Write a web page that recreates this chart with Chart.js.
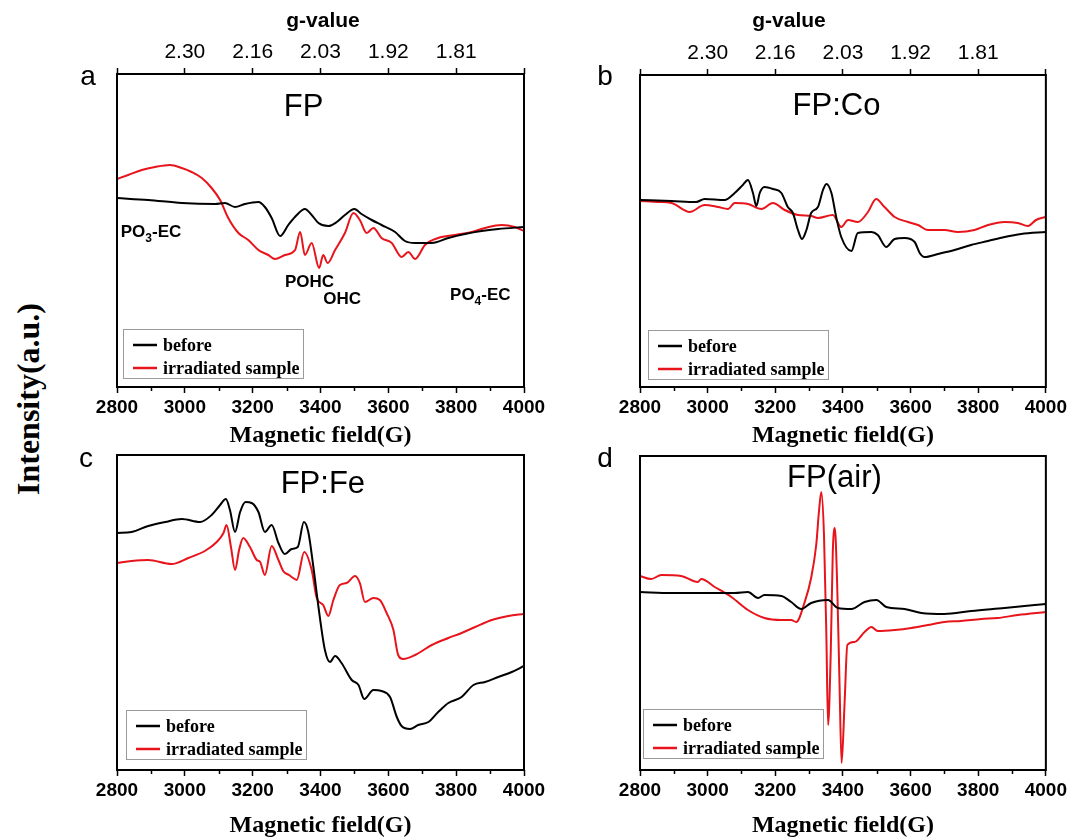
<!DOCTYPE html>
<html>
<head>
<meta charset="utf-8">
<script src="https://cdn.jsdelivr.net/npm/chart.js@4.4.0/dist/chart.umd.min.js"></script>
<style>
html,body{margin:0;padding:0;background:#fff;}
#wrap{position:relative;width:1071px;height:838px;overflow:hidden;background:#fff;}
canvas{position:absolute;}
#ylab{position:absolute;left:28px;top:399px;transform:translate(-50%,-50%) rotate(-90deg);font:bold 32px "Liberation Serif","Times New Roman",serif;white-space:nowrap;color:#000;}
</style>
</head>
<body>
<div id="wrap">
<canvas id="cA" style="left:60px;top:0px" width="490" height="448"></canvas>
<canvas id="cB" style="left:580px;top:0px" width="490" height="448"></canvas>
<canvas id="cC" style="left:60px;top:440px" width="490" height="398"></canvas>
<canvas id="cD" style="left:580px;top:440px" width="490" height="398"></canvas>
<div id="ylab">Intensity(a.u.)</div>
</div>
<script>
// ---------------- DATA ----------------
const seriesNames = ['before', 'irradiated sample'];
const xTitle = 'Magnetic field(G)';
const gTitle = 'g-value';
const gTickFields = [3000, 3200, 3400, 3600, 3800];
const gTickLabels = ['2.30', '2.16', '2.03', '1.92', '1.81'];

// Panel a: FP
const aBeforeX = [2800,2892,2991,3089,3118,3148,3177,3217,3236,3256,3281,3305,3330,3354,3374,3394,3423,3448,3472,3500,3521,3551,3580,3620,3649,3679,3728,3777,3826,3875,3924,4000];
const aBeforeY = [189,187,184,183,184,180,183,185,180,169,151,162,172,178,172,164,161,165,172,178,173,167,162,155,146,144,144,149,153,156,158,160];
const aIrrX = [2800,2833,2873,2912,2956,2991,3020,3050,3079,3104,3128,3158,3187,3217,3246,3266,3295,3325,3340,3354,3374,3396,3408,3421,3443,3472,3497,3516,3536,3556,3580,3610,3639,3659,3679,3708,3747,3797,3846,3885,3934,3973,4000];
const aIrrY = [208,212,217,220,222,219,215,209,199,187,169,154,147,137,132,128,132,137,155,132,144,119,132,124,137,154,174,167,154,159,149,144,130,135,128,142,149,152,155,159,162,160,156];

// Panel b: FP:Co
const bBeforeX = [2800,2893,2966,2991,3050,3080,3104,3119,3134,3144,3154,3168,3193,3218,3237,3252,3267,3279,3292,3306,3326,3341,3351,3366,3380,3395,3425,3444,3484,3503,3528,3553,3582,3612,3627,3641,3681,3730,3779,3829,3878,3927,4000];
const bBeforeY = [187,186,185,188,187,194,202,207,194,181,194,200,198,194,180,174,157,148,157,174,180,197,203,194,170,150,136,154,155,152,140,148,149,145,134,130,133,137,142,146,150,153,155];
const bIrrX = [2800,2853,2893,2947,2991,3031,3060,3080,3119,3159,3193,3228,3267,3306,3326,3370,3395,3415,3444,3474,3498,3523,3553,3592,3622,3651,3700,3740,3789,3829,3878,3917,3947,3971,4000];
const bIrrY = [186,185,184,175,182,180,178,184,183,178,184,177,172,171,169,172,160,167,165,175,188,180,170,165,162,157,157,155,157,162,165,164,161,167,170];

// Panel c: FP:Fe
const cBeforeX = [2800,2843,2892,2942,2991,3045,3079,3104,3121,3133,3148,3163,3179,3197,3217,3236,3256,3276,3295,3315,3333,3351,3364,3379,3394,3413,3428,3443,3462,3492,3512,3529,3556,3580,3605,3625,3639,3664,3688,3718,3747,3777,3816,3851,3885,3924,3964,4000];
const cBeforeY = [237,238,244,248,251,248,255,265,271,260,238,258,268,267,258,238,245,227,216,221,223,248,238,203,163,120,108,114,107,90,85,71,80,79,73,53,44,41,45,48,58,67,73,85,88,93,98,104];
const cIrrX = [2800,2843,2892,2961,3010,3059,3094,3114,3123,3136,3148,3160,3172,3192,3212,3222,3236,3256,3276,3290,3307,3315,3330,3352,3374,3389,3408,3423,3438,3457,3477,3502,3516,3531,3556,3575,3595,3615,3629,3644,3679,3728,3777,3816,3856,3905,3954,4000];
const cIrrY = [207,209,210,206,212,219,228,237,245,223,200,220,232,223,210,208,195,224,210,199,195,193,190,218,200,172,165,154,170,185,187,194,187,168,172,170,157,140,115,111,115,125,132,137,143,150,154,156];

// Panel d: FP(air)
const dBeforeX = [2800,2893,2991,3080,3119,3149,3168,3218,3247,3277,3306,3356,3385,3425,3464,3499,3528,3582,3632,3700,3779,3878,4000];
const dBeforeY = [178,177,177,177,178,172,175,174,168,161,167,170,162,161,168,170,163,161,157,156,159,162,166];
const dIrrX = [2800,2833,2863,2922,2971,2981,3021,3070,3119,3168,3218,3247,3262,3287,3306,3321,3329,3336,3344,3351,3356,3364,3370,3376,3383,3390,3396,3405,3413,3434,3464,3484,3503,3553,3602,3651,3700,3749,3809,3858,3917,4000];
const dIrrY = [194,191,195,194,188,191,183,173,160,152,150,150,148,168,192,225,258,278,235,135,45,118,218,242,185,85,7,68,125,128,138,143,139,140,142,145,148,149,151,152,155,158];

// ---------------- STYLE ----------------
const SANS = '"Liberation Sans", Arial, Helvetica, sans-serif';
const SERIF = '"Liberation Serif", "Times New Roman", serif';
const BLACK = '#000000';
const RED = '#e8141b';

function pts(xs, ys) { return xs.map((x, i) => ({x: x, y: ys[i]})); }

const decor = {
  id: 'decor',
  afterDraw(chart, args, o) {
    const ctx = chart.ctx, ca = chart.chartArea, sx = chart.scales.x, sy = chart.scales.y;
    ctx.save();
    // minor ticks (odd hundreds) on the bottom axis, shorter than major ones
    ctx.strokeStyle = '#000';
    ctx.lineWidth = 1.5;
    sx.ticks.forEach(t => {
      if (t.value % 200 !== 0) {
        const px = Math.round(sx.getPixelForValue(t.value)) + 0.5;
        ctx.beginPath();
        ctx.moveTo(px, ca.bottom);
        ctx.lineTo(px, ca.bottom + 4);
        ctx.stroke();
      }
    });
    // frame
    ctx.lineWidth = 2;
    ctx.strokeRect(ca.left, ca.top, ca.right - ca.left, ca.bottom - ca.top);
    ctx.fillStyle = '#000';
    ctx.textBaseline = 'alphabetic';
    // data-anchored texts
    (o.texts || []).forEach(t => {
      const x = sx.getPixelForValue(t.x);
      const y = sy.getPixelForValue(t.y);
      ctx.font = t.font;
      if (t.sub) {
        ctx.textAlign = 'left';
        ctx.fillText(t.text, x, y);
        let w = ctx.measureText(t.text).width;
        ctx.font = t.subFont;
        ctx.fillText(t.sub, x + w, y + 5);
        w += ctx.measureText(t.sub).width;
        ctx.font = t.font;
        ctx.fillText(t.rest, x + w, y);
      } else {
        ctx.textAlign = t.align || 'left';
        ctx.fillText(t.text, x, y);
      }
    });
    // pixel texts
    (o.pxTexts || []).forEach(t => {
      ctx.font = t.font;
      ctx.textAlign = t.align || 'center';
      ctx.fillText(t.text, t.px, t.py);
    });
    // legend box
    const L = o.legend;
    if (L) {
      const bx = ca.left + L.dx, by = ca.bottom - L.dy - L.h;
      ctx.lineWidth = 1;
      ctx.strokeStyle = '#9a9a9a';
      ctx.strokeRect(bx + 0.5, by + 0.5, L.w, L.h);
      ctx.font = 'bold 18px ' + SERIF;
      ctx.textAlign = 'left';
      ctx.textBaseline = 'middle';
      chart.data.datasets.forEach((ds, i) => {
        const ry = by + 16 + i * 23;
        ctx.strokeStyle = ds.borderColor;
        ctx.lineWidth = 2.5;
        ctx.beginPath();
        ctx.moveTo(bx + 10, ry);
        ctx.lineTo(bx + 34, ry);
        ctx.stroke();
        ctx.fillStyle = '#000';
        ctx.fillText(ds.label, bx + 40, ry + 1);
      });
    }
    ctx.restore();
  }
};

function makePanel(id, p) {
  const scales = {
    x: {
      type: 'linear', position: 'bottom', min: 2800, max: 4000,
      ticks: {
        stepSize: 100, autoSkip: false, maxRotation: 0, minRotation: 0, padding: 3,
        color: '#000', font: {family: SANS, size: 19, weight: 'bold'},
        callback: v => (v % 200 === 0 ? String(v) : '')
      },
      grid: {display: true, drawOnChartArea: false, drawTicks: true, tickLength: 6, tickWidth: 1.5,
             color: '#000',
             tickColor: c => (c.tick && c.tick.value % 200 !== 0 ? 'rgba(0,0,0,0)' : '#000')},
      border: {display: false},
      title: {display: true, text: xTitle, color: '#000', padding: 0,
              font: {family: SERIF, size: 24, weight: 'bold', lineHeight: 1}},
      afterFit: s => { s.height = p.bottomH; }
    },
    y: {display: false, min: 0, max: p.ymax}
  };
  if (p.topH) {
    scales.xTop = {
      type: 'linear', position: 'top', min: 2800, max: 4000,
      ticks: {
        stepSize: 200, autoSkip: false, maxRotation: 0, minRotation: 0, padding: 3,
        color: '#000', font: {family: SANS, size: 21},
        callback: v => { const i = gTickFields.indexOf(v); return i >= 0 ? gTickLabels[i] : ''; }
      },
      grid: {display: true, drawOnChartArea: false, drawTicks: true, tickLength: 6, color: '#000', tickWidth: 1.5},
      border: {display: false},
      afterFit: s => { s.height = p.topH; }
    };
  }
  return new Chart(document.getElementById(id), {
    type: 'line',
    data: {
      datasets: [
        {label: seriesNames[0], data: pts(p.bx, p.by), borderColor: BLACK, borderWidth: 2, pointRadius: 0, cubicInterpolationMode: 'monotone', fill: false},
        {label: seriesNames[1], data: pts(p.rx, p.ry), borderColor: RED, borderWidth: 2, pointRadius: 0, cubicInterpolationMode: 'monotone', fill: false}
      ]
    },
    options: {
      responsive: false, animation: false, devicePixelRatio: 1,
      layout: {padding: p.pad},
      scales: scales,
      plugins: {
        legend: {display: false}, tooltip: {enabled: false}, title: {display: false},
        decor: {texts: p.texts, pxTexts: p.pxTexts, legend: p.legend}
      }
    },
    plugins: [decor]
  });
}

const bold17 = 'bold 17px ' + SANS;
const sub12 = 'bold 12px ' + SANS;
const titleFont = '31px ' + SANS;
const letterFont = '28px ' + SANS;
const gFont = 'bold 21px ' + SANS;

makePanel('cA', {
  bx: aBeforeX, by: aBeforeY, rx: aIrrX, ry: aIrrY, ymax: 313,
  pad: {left: 57, right: 26, top: 0, bottom: 0}, topH: 74, bottomH: 61,
  texts: [
    {text: 'FP', x: 3350, y: 271, font: titleFont, align: 'center'},
    {text: 'PO', sub: '3', rest: '-EC', x: 2811, y: 150, font: bold17, subFont: sub12},
    {text: 'POHC', x: 3295, y: 100, font: bold17},
    {text: 'OHC', x: 3408, y: 83, font: bold17},
    {text: 'PO', sub: '4', rest: '-EC', x: 3782, y: 87, font: bold17, subFont: sub12}
  ],
  pxTexts: [
    {text: gTitle, px: 263, py: 27, font: gFont},
    {text: 'a', px: 28, py: 85, font: letterFont}
  ],
  legend: {dx: 6, dy: 9, w: 180, h: 49}
});

makePanel('cB', {
  bx: bBeforeX, by: bBeforeY, rx: bIrrX, ry: bIrrY, ymax: 312,
  pad: {left: 60, right: 24, top: 0, bottom: 0}, topH: 75, bottomH: 61,
  texts: [
    {text: 'FP:Co', x: 3381, y: 272, font: titleFont, align: 'center'}
  ],
  pxTexts: [
    {text: gTitle, px: 209, py: 27, font: gFont},
    {text: 'b', px: 25, py: 85, font: letterFont}
  ],
  legend: {dx: 8, dy: 8, w: 180, h: 49}
});

makePanel('cC', {
  bx: cBeforeX, by: cBeforeY, rx: cIrrX, ry: cIrrY, ymax: 315,
  pad: {left: 57, right: 26, top: 15, bottom: 0}, topH: 0, bottomH: 68,
  texts: [
    {text: 'FP:Fe', x: 3407, y: 277, font: titleFont, align: 'center'}
  ],
  pxTexts: [
    {text: 'c', px: 26, py: 27, font: letterFont}
  ],
  legend: {dx: 9, dy: 11, w: 180, h: 49}
});

makePanel('cD', {
  bx: dBeforeX, by: dBeforeY, rx: dIrrX, ry: dIrrY, ymax: 314,
  pad: {left: 60, right: 24, top: 16, bottom: 0}, topH: 0, bottomH: 68,
  texts: [
    {text: 'FP(air)', x: 3375, y: 283, font: titleFont, align: 'center'}
  ],
  pxTexts: [
    {text: 'd', px: 25, py: 27, font: letterFont}
  ],
  legend: {dx: 3, dy: 12, w: 180, h: 49}
});
</script>
</body>
</html>
